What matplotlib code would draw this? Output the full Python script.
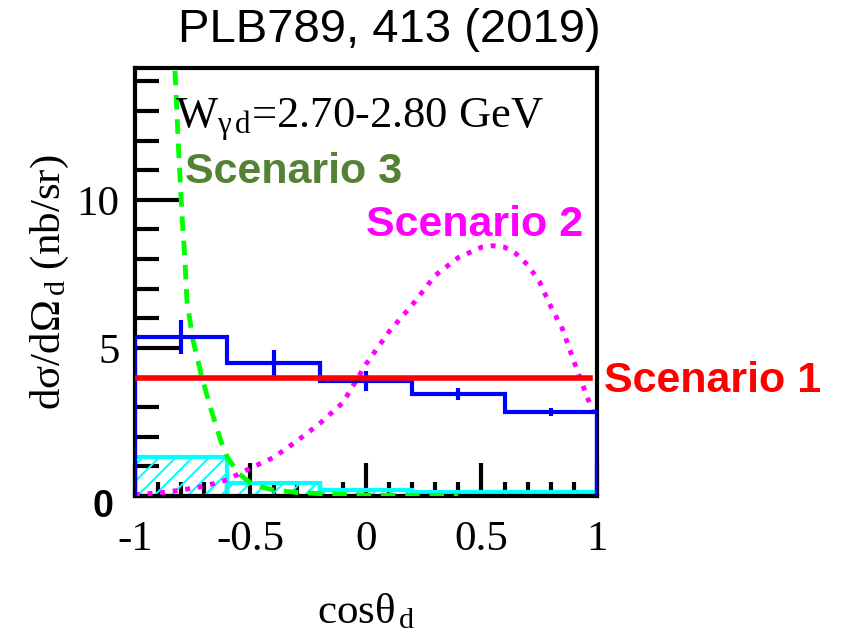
import numpy as np
import matplotlib
matplotlib.use('Agg')
import matplotlib.pyplot as plt
from matplotlib.ticker import MultipleLocator
from matplotlib.transforms import ScaledTranslation

plt.rcParams['mathtext.fontset'] = 'custom'
plt.rcParams['mathtext.rm'] = 'Liberation Serif'
plt.rcParams['mathtext.it'] = 'Liberation Serif:italic'
plt.rcParams['hatch.linewidth'] = 1.5

SERIF = 'Liberation Serif'
SANS = 'Liberation Sans'

# measured cross section, 0.4-wide bins in cos(theta_d)
bin_edges = [-1.0, -0.6, -0.2, 0.2, 0.6, 1.0]
xsec = [5.38, 4.49, 3.88, 3.43, 2.83]
xsec_err = [0.57, 0.44, 0.35, 0.20, 0.13]
background = [1.31, 0.44, 0.20, 0.12, 0.12]

# scenario 1: isotropic
iso_x = [-1.0, 0.97]
iso_y = [3.97, 3.97]

# scenario 2
s2_x = [-1.0, -0.9, -0.8, -0.7, -0.6, -0.5, -0.4, -0.3, -0.2, -0.1, 0.0, 0.1,
        0.2, 0.3, 0.4, 0.5, 0.55, 0.6, 0.65, 0.7, 0.75, 0.8, 0.85, 0.9, 0.95, 0.98]
s2_y = [0.05, 0.10, 0.20, 0.33, 0.55, 0.94, 1.30, 1.85, 2.45, 3.15, 4.45, 5.55,
        6.45, 7.45, 8.05, 8.40, 8.45, 8.40, 8.18, 7.80, 7.25, 6.40, 5.65, 4.55, 3.50, 2.90]

# scenario 3
s3_x = [-0.835, -0.827, -0.81, -0.795, -0.784, -0.775, -0.75, -0.71, -0.67, -0.63,
        -0.6, -0.55, -0.5, -0.45, -0.4, -0.3, -0.2, -0.1, 0.0, 0.2, 0.4]
s3_y = [16.0, 14.4, 11.5, 9.3, 8.0, 6.6, 5.3, 4.0, 2.9, 1.9,
        1.3, 0.75, 0.44, 0.30, 0.20, 0.12, 0.08, 0.05, 0.03, 0.02, 0.01]

fig = plt.figure(figsize=(8.51, 6.34), dpi=100)
ax = fig.add_axes([0.1586, 0.2177, 0.5429, 0.675])

centers = 0.5 * (np.array(bin_edges[:-1]) + np.array(bin_edges[1:]))
widths = np.diff(bin_edges)

ax.bar(centers, background, width=widths, facecolor='none', edgecolor='#00ffff',
       hatch='//', linewidth=3, zorder=2)
ax.plot(s3_x, s3_y, color='#00ff00', lw=3.5, ls=(0, (3, 2)), zorder=3)
ax.plot(s2_x, s2_y, color='#ff00ff', lw=3.5, ls=(0, (1, 1.6)), zorder=3)
ax.stairs(xsec, bin_edges, baseline=0, color='#0000ff', lw=3, zorder=4)
ax.errorbar(centers, xsec, yerr=xsec_err, fmt='none', ecolor='#0000ff',
            elinewidth=3, capsize=0, zorder=4)
ax.plot(iso_x, iso_y, color='#ff0000', lw=4, zorder=5)

ax.set_xlim(-1, 1)
ax.set_ylim(0, 14.45)
ax.xaxis.set_major_locator(MultipleLocator(0.5))
ax.xaxis.set_minor_locator(MultipleLocator(0.1))
ax.yaxis.set_major_locator(MultipleLocator(5))
ax.yaxis.set_minor_locator(MultipleLocator(1))
ax.tick_params(axis='both', which='both', direction='in', top=False, right=False,
               width=3, labelsize=31)
ax.tick_params(axis='x', which='major', length=24, pad=18)
ax.tick_params(axis='x', which='minor', length=10)
ax.tick_params(axis='y', which='major', length=33, pad=11)
ax.tick_params(axis='y', which='minor', length=17)
for sp in ax.spines.values():
    sp.set_linewidth(3)

ax.set_xticks([-1, -0.5, 0, 0.5, 1])
ax.set_xticklabels(['-1', '-0.5', '0', '0.5', '1'], family=SERIF)
ax.set_yticks([0, 5, 10])
ax.set_yticklabels(['0', '5', '10'], family=SERIF)
zero = ax.get_yticklabels()[0]
zero.set_family(SANS)
zero.set_fontweight('bold')
zero.set_fontsize(27)
zero.set_transform(zero.get_transform() + ScaledTranslation(-6 / 100, -7 / 100, fig.dpi_scale_trans))

ax.set_xlabel(r'cos$\mathrm{\theta_{\,d}}$', family=SERIF, fontsize=31, labelpad=24)
ax.set_ylabel(r'd$\mathrm{\sigma}$/d$\mathrm{\Omega_{\,d}}$ (nb/sr)', family=SERIF,
              fontsize=31, labelpad=4)

ax.text(-0.827, 12.42, r'W$_{\mathrm{\gamma\,d}}$=2.70-2.80 GeV', family=SERIF,
        fontsize=32, va='baseline', zorder=6)
ax.text(-0.784, 10.57, 'Scenario 3', family=SANS, fontweight='bold', fontsize=31,
        color='#548235', va='baseline')
ax.text(0.002, 8.79, 'Scenario 2', family=SANS, fontweight='bold', fontsize=31,
        color='#ff00ff', va='baseline')
ax.text(1.03, 3.5, 'Scenario 1', family=SANS, fontweight='bold', fontsize=31,
        color='#ff0000', va='baseline', clip_on=False)

fig.text(0.458, 0.953, 'PLB789, 413 (2019)', family=SANS, fontsize=34,
         ha='center', va='center')

fig.savefig('out.png', dpi=100)
